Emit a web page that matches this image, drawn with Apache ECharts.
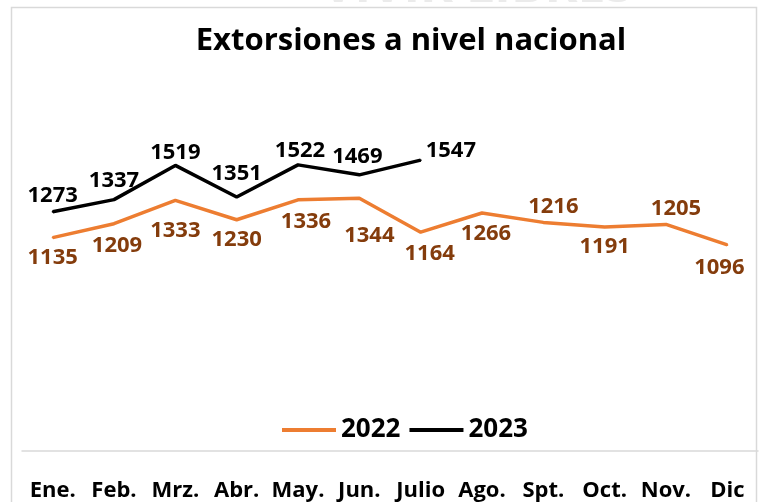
<html>
<head>
    <meta charset="utf-8">
    <title>Extorsiones a nivel nacional</title>
    <script src="https://cdn.jsdelivr.net/npm/echarts@6/dist/echarts.min.js"></script>
    <style type="text/css">
        html, body { margin: 0; padding: 0; background: #fff; }
        #main { width: 762px; height: 502px; }
    </style>
</head>
<body>
    <div id="main"></div>
    <script type="text/javascript">
        // datos
        var meses = ['Ene.', 'Feb.', 'Mrz.', 'Abr.', 'May.', 'Jun.', 'Julio', 'Ago.', 'Spt.', 'Oct.', 'Nov.', 'Dic'];
        var datos2022 = [1135, 1209, 1333, 1230, 1336, 1344, 1164, 1266, 1216, 1191, 1205, 1096];
        var datos2023 = [1273, 1337, 1519, 1351, 1522, 1469, 1547];

        var fuente = '"Open Sans", sans-serif';

        // ajustes de etiquetas como en el original
        var pos2022 = {
            1: { offset: [3, 2] },
            2: { offset: [0, 10] },
            4: { offset: [8, 2] },
            5: { offset: [10, 17] },
            6: { offset: [9, 2] },
            7: { offset: [4, 1] },
            8: { position: 'top', offset: [10, 4] },
            10: { position: 'top', offset: [10, 4] },
            11: { offset: [-8, 3] }
        };
        var serie2022 = [];
        for (var i = 0; i < datos2022.length; i++) {
            var item = { value: datos2022[i] };
            if (pos2022[i]) item.label = pos2022[i];
            serie2022.push(item);
        }
        var pos2023 = {
            1: { offset: [0, -3] },
            2: { offset: [0, 3] },
            3: { offset: [0, -7] },
            4: { offset: [2, 2] },
            5: { offset: [-2, -2] },
            6: { position: 'right', offset: [0, -9] }
        };
        var serie2023 = [];
        for (var j = 0; j < datos2023.length; j++) {
            var it = { value: datos2023[j] };
            if (pos2023[j]) it.label = pos2023[j];
            serie2023.push(it);
        }

        var myChart = echarts.init(document.getElementById('main'));
        var option = {
            backgroundColor: '#fff',
            animation: false,
            title: {
                text: 'Extorsiones a nivel nacional',
                left: 406,
                textAlign: 'center',
                top: 21,
                textStyle: {
                    fontFamily: fuente,
                    fontSize: 31,
                    fontWeight: 'bold',
                    color: '#000'
                }
            },
            graphic: [{
                // marca de agua cortada arriba
                type: 'text',
                x: 322,
                y: 13,
                silent: true,
                style: {
                    text: 'VIVIR LIBRES',
                    font: 'bold 50px "Open Sans"',
                    verticalAlign: 'bottom',
                    fill: '#ebebeb'
                }
            }, {
                type: 'rect',
                shape: { x: 11.5, y: 7.5, width: 745, height: 520 },
                style: { fill: 'none', stroke: '#d9d9d9', lineWidth: 1.5 },
                silent: true
            }],
            legend: {
                top: 412,
                left: 277,
                icon: 'rect',
                itemWidth: 54,
                itemHeight: 4,
                itemGap: 9,
                textStyle: {
                    fontFamily: fuente,
                    fontSize: 26,
                    fontWeight: 'bold',
                    color: '#000'
                },
                data: ['2022', '2023']
            },
            grid: {
                left: 22,
                right: 4,
                top: 75,
                bottom: 50,
                containLabel: false
            },
            xAxis: {
                type: 'category',
                data: meses,
                boundaryGap: true,
                axisLine: { show: true, lineStyle: { color: '#d9d9d9', width: 1.5 } },
                axisTick: { show: false },
                axisLabel: {
                    margin: 29,
                    interval: 0,
                    fontFamily: fuente,
                    fontSize: 22,
                    fontWeight: 'bold',
                    color: '#000'
                }
            },
            yAxis: {
                type: 'value',
                min: 0,
                max: 2000,
                show: false,
                splitLine: { show: false }
            },
            series: [{
                name: '2022',
                type: 'line',
                data: serie2022,
                color: '#ED7D31',
                symbol: 'circle',
                symbolSize: 2,
                showSymbol: true,
                itemStyle: { color: '#ED7D31' },
                lineStyle: { width: 3.5, color: '#ED7D31' },
                label: {
                    show: true,
                    position: 'bottom',
                    distance: 8,
                    fontFamily: fuente,
                    fontSize: 22,
                    fontWeight: 'bold',
                    color: '#843C0C'
                }
            }, {
                name: '2023',
                type: 'line',
                data: serie2023,
                color: '#000',
                symbol: 'circle',
                symbolSize: 2,
                showSymbol: true,
                itemStyle: { color: '#000' },
                lineStyle: { width: 3.5, color: '#000' },
                label: {
                    show: true,
                    position: 'top',
                    distance: 4,
                    fontFamily: fuente,
                    fontSize: 22,
                    fontWeight: 'bold',
                    color: '#000'
                }
            }]
        };
        myChart.setOption(option);
    </script>
</body>
</html>
